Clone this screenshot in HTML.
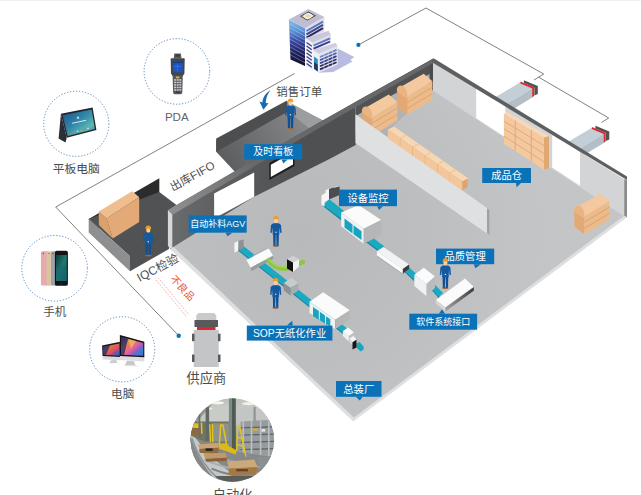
<!DOCTYPE html>
<html><head><meta charset="utf-8"><title>diagram</title>
<style>
html,body{margin:0;padding:0;background:#fff;font-family:"Liberation Sans",sans-serif;}
svg{display:block}
svg text{font-family:"Liberation Sans","Noto Sans CJK SC",sans-serif;}
.sr-only{position:absolute;left:0;top:0;width:1px;height:1px;margin:-1px;padding:0;overflow:hidden;clip:rect(0 0 0 0);clip-path:inset(50%);white-space:nowrap;border:0;font-size:1px;color:transparent}
</style></head><body>
<svg width="641" height="495" viewBox="0 0 641 495" role="img" aria-label="智能工厂物流与生产流程示意图">
<rect width="641" height="495" fill="#fff"/>
<!-- ===== thin outline + connector lines ===== -->
<g fill="none" stroke="#4a4a4a" stroke-width="0.7">
  <polyline points="294.5,73.5 55.7,207 178.7,335.7"/>
  <polyline points="358.4,44.9 426,8 543.7,74 534,80"/>
  <polyline points="538.7,77.2 608.7,118 601.5,122.5"/>
</g>
<circle cx="358.4" cy="44.9" r="2.1" fill="#0b72b8"/>
<circle cx="178.7" cy="335.7" r="2.2" fill="#0b72b8"/>

<!-- ===== dashed device circles ===== -->
<g fill="none" stroke="#2f6cb0" stroke-width="0.8" stroke-dasharray="1.2 1.8">
  <circle cx="176.9" cy="71.4" r="32.8"/>
  <circle cx="76.3" cy="123.8" r="32.6"/>
  <circle cx="54.6" cy="268.3" r="32.8"/>
  <circle cx="122.2" cy="349.3" r="32.6"/>
</g>

<!-- ===== delivery trucks (behind right wall) ===== -->
<g id="truck1">
  <polygon points="496,96.8 520.4,82.3 533.1,88 503,105.9" fill="#c4ced6"/>
  <polygon points="503,105.9 533.1,88 533.1,97.1 510,111" fill="#b3bec6"/>
  <polygon points="523.9,80.2 537.8,85.9 537.8,94 534.4,95.5 534.4,87.6 523.9,83" fill="#515254"/>
  <polygon points="520.4,81.4 534.2,87.2 534.2,96 532.3,96.9 532.3,88.6 520.4,83.6" fill="#e0262b"/>
</g>
<use href="#truck1" x="71.5" y="45.5"/>

<!-- ===== alcove behind back-left wall ===== -->
<polygon points="216.2,151.7 216.2,140 287,101.5 324,121 237,174" fill="url(#alcg)"/>
<polygon points="287,101 323,121 310.8,129.5 295,117" fill="#9b9d9e"/>
<polygon points="216.2,138.6 287,100.6 287,112 216.2,151.7" fill="#4d4e50"/>

<!-- ===== IQC room ===== -->
<polygon points="88.7,219 159.3,178.3 159.3,192.5 92,232" fill="#2c2c2e"/>
<polygon points="88.7,219 159.3,192 176.5,205 169,210 169,249 130,271.2 130,256.2" fill="#515254"/>
<polygon points="88.7,218.7 130,256.2 130,271.2 88.7,232.5" fill="#8d8f90"/>
<!-- box -->
<polygon points="98.7,211.5 132.2,191.3 139.2,197.3 106.5,218.5" fill="#efbd8e"/>
<polygon points="106.5,218.5 139.2,197.3 139.2,222 112.7,238.4" fill="#e3a976"/>
<polygon points="98.7,211.5 106.5,218.5 112.7,238.4 98.9,225" fill="#dba06c"/>

<!-- ===== main floor ===== -->
<polygon points="172,214 430,68 624,186 627,217.3 353.2,421.5 170,249" fill="#dedfe0"/>
<defs><radialGradient id="floorg" gradientUnits="userSpaceOnUse" cx="300" cy="235" r="250">
<stop offset="0" stop-color="#b8b9bb"/><stop offset="0.5" stop-color="#bdbec0"/><stop offset="1" stop-color="#c4c5c7"/></radialGradient></defs>
<polygon points="173,214 430,68 624,186 626.5,214 353.8,417.6 172.5,246" fill="url(#floorg)"/>

<!-- ===== back-left wall ===== -->
<defs>
  <linearGradient id="wallg" gradientUnits="userSpaceOnUse" x1="172" y1="0" x2="300" y2="0">
    <stop offset="0" stop-color="#6a6b6d"/><stop offset="0.45" stop-color="#5b5c5e"/><stop offset="1" stop-color="#4f5052"/>
  </linearGradient>
  <linearGradient id="bandg" gradientUnits="userSpaceOnUse" x1="175" y1="0" x2="255" y2="0">
    <stop offset="0" stop-color="#8c8d8f"/><stop offset="0.6" stop-color="#78797b"/><stop offset="1" stop-color="#67686a"/>
  </linearGradient>
  <linearGradient id="alcg" gradientUnits="userSpaceOnUse" x1="220" y1="160" x2="300" y2="115">
    <stop offset="0" stop-color="#5b5c5e"/><stop offset="1" stop-color="#858788"/>
  </linearGradient>
</defs>
<!-- face: main hall part -->
<polygon points="355.7,101.8 320,122 168,210 170,249 254.2,196.8 330,158.8 355.7,145" fill="url(#wallg)"/>
<!-- storage-room part: medium face + dark strip -->
<polygon points="355.7,101.8 433,58.8 433,90 355.7,133" fill="#b1b2b4"/>
<polygon points="355.7,101.8 433,58.8 433,72 355.7,116" fill="#515254"/>
<polygon points="429.5,61 433,59 433,90 429.5,92" fill="#4a4b4d"/>
<!-- top band -->
<polygon points="168,210 320,122 433,58.8 433,63 320,127.6 172,215" fill="url(#bandg)"/>
<polygon points="167.9,210 172.3,214.8 172.3,250 167.9,246" fill="#d7d8da"/>
<polygon points="214.1,193.5 254.2,172.5 254.2,196.8 214.1,218.6" fill="#ffffff"/>
<!-- window -->
<polygon points="269.3,163 294.5,148.8 294.5,166 269.3,180" fill="#1d1d1f"/>
<polygon points="270.8,164.8 293,152.2 293,164.6 270.8,177" fill="#ffffff"/>

<!-- ===== storage room shadow floor ===== -->
<polygon points="355.7,133 433,90 392,127 463,182 463,191.5 355.7,114.5" fill="#b1b2b4"/>

<!-- ===== back-right wall ===== -->
<polygon points="433,62 626.5,180.5 624.5,216.5 433,90.5" fill="#d3d4d6"/>
<polygon points="476.2,88.5 505.3,106.3 505.3,137.2 476.2,118.2" fill="#ffffff"/>
<polygon points="552.2,135 580,152 580,185.7 552.2,167.6" fill="#ffffff"/>
<polygon points="432,59 434,58.5 627,176.5 627,179.9 432,62.3" fill="#5e5f61"/>
<polygon points="624.3,179 627,180.3 627,217.3 624.3,215.6" fill="#8a8b8d"/>

<!-- ===== boxes at back ===== -->
<defs><g id="bigbox">
  <polygon points="1.2,17 11.2,24 11.2,41 1.2,33" fill="#e3a873"/>
  <polygon points="11.2,22.5 36.2,7.5 36.2,26 11.2,41" fill="#ecbb8c"/>
  <path d="M11.2,28.6 L36.2,13.6 M11.2,34.8 L36.2,19.8" stroke="#d9a06a" stroke-width="0.9" fill="none"/>
  <path d="M0.8,17.5 C0.2,13.5 3,11.5 6,12.3 L27.5,0 L36.2,7.5 L11.2,22.8 L10.5,24 Z" fill="#f4c99f"/>
  <path d="M0.8,17.5 C0.2,13.5 3,11.5 6,12.3 C9.5,13.5 11.5,18 11.2,24 Z" fill="#eab482"/>
</g></defs>

<!-- ===== partition wall ===== -->
<polygon points="355.7,114.5 489.5,210 489.5,235 355.7,143" fill="#dfe0e2"/>
<polygon points="487,208.3 489.5,210 489.5,235 487,233.3" fill="#9fa1a3"/>

<!-- ===== defs: worker ===== -->
<defs>
  <g id="worker">
    <!-- origin: top centre of helmet -->
    <ellipse cx="0" cy="29.8" rx="3.2" ry="1.1" fill="#9a6a3a"/>
    <path d="M-2.9,17.5 L-0.2,17.5 L-0.5,29.6 L-2.6,29.6 Z M0.2,17.5 L2.9,17.5 L2.6,29.6 L0.5,29.6 Z" fill="#0f5196"/>
    <path d="M-3.2,7.6 Q0,6.6 3.2,7.6 L5,9 L5.6,16.5 L4.2,17 L3.6,11.5 L3.2,19 L-3.2,19 L-3.6,11.5 L-4.2,17 L-5.6,16.5 L-5,9 Z" fill="#15599f"/>
    <circle cx="0" cy="16.2" r="0.7" fill="#e8eef5"/>
    <ellipse cx="0" cy="4.6" rx="2.1" ry="2.6" fill="#f6cfa6"/>
    <path d="M-2.9,3.6 Q-2.9,0 0,0 Q2.9,0 2.9,3.6 Q0,2.6 -2.9,3.6 Z" fill="#f39a1e"/>
  </g>
</defs>

<!-- ===== storage: big box stacks at back ===== -->
<use href="#bigbox" x="361.2" y="94.5"/>
<use href="#bigbox" x="396.2" y="73.7"/>
<!-- re-draw partition above boxes -->
<polygon points="355.7,114.5 489.5,210 489.5,235 355.7,143" fill="#dfe0e2"/>
<polygon points="487,208.3 489.5,210 489.5,235 487,233.3" fill="#9fa1a3"/>

<!-- row of small boxes -->
<defs>
  <g id="smbox">
    <polygon points="0,3 6.2,0 18.6,8.65 12.4,11.65" fill="#f7d6b3"/>
    <polygon points="0,3 12.4,11.65 12.4,20.45 0,11.8" fill="#f3c79a"/>
    <polygon points="12.4,11.65 17.6,8.6 17.6,17.2 12.4,20.45" fill="#dfa46c"/>
    <path d="M12.4,11.65 L12.4,20.45" stroke="#e3ac78" stroke-width="0.7"/>
  </g>
</defs>
<use href="#smbox" x="387.9" y="126.6"/>
<use href="#smbox" x="400.3" y="135.3"/>
<use href="#smbox" x="412.8" y="143.9"/>
<use href="#smbox" x="425.2" y="152.6"/>
<use href="#smbox" x="437.6" y="161.3"/>
<use href="#smbox" x="450.0" y="169.9"/>

<!-- shelf -->
<polygon points="503.9,113.7 507,112 549,136.3 544,137.5" fill="#f8d8b8"/>
<polygon points="503.9,113.7 544,137.5 544,169.8 503.9,143.7" fill="#f4c99f"/>
<polygon points="544,137.5 549,136.3 549,168 544,169.8" fill="#e2a872"/>
<path d="M503.9,121.2 L544,145.6 M503.9,128.7 L544,153.7 M503.9,136.2 L544,161.8 M515.2,120.4 L515.2,151 M531.3,130 L531.3,161.5" stroke="#e0a676" stroke-width="0.9" fill="none"/>

<!-- right stack -->
<use href="#bigbox" x="573.2" y="193.5"/>

<!-- ===== conveyor 2 (upper) ===== -->
<polygon points="323.7,204.4 341.3,218.1 341.3,220.5 323.7,206.8" fill="#0e8fa8"/>
<polygon points="323.7,204.4 329.2,199.2 346.8,212.9 341.3,218.1" fill="#1aa9c3"/>
<polygon points="366,239.8 379.8,250.2 379.8,252.6 366,242.20000000000002" fill="#0e8fa8"/>
<polygon points="366,239.8 370.7,236 384.4,246.4 379.8,250.2" fill="#1aa9c3"/>
<polygon points="404,269.2 414.4,279.2 414.4,281.59999999999997 404,271.59999999999997" fill="#0e8fa8"/>
<polygon points="404,269.2 408.1,266.4 418.2,275.5 414.4,279.2" fill="#1aa9c3"/>
<polygon points="430.3,286 439.3,296.4 439.3,298.79999999999995 430.3,288.4" fill="#0e8fa8"/>
<polygon points="430.3,286 434,283.8 443,293 439.3,296.4" fill="#1aa9c3"/>
<!-- start scanner -->
<polygon points="321.4,195.5 325.5,193 325.5,190.5 329,188.5 329,199.5 324.5,202 324.5,206.5 321.4,204.5" fill="#f6f6f6"/>
<polygon points="329,188.5 339.6,186.6 339.6,195 329,199.5" fill="#4c4d52"/>
<polygon points="325.5,190.5 336,186.6 339.6,186.6 329,188.5" fill="#e2e3e4"/>
<!-- tunnel machine A -->
<polygon points="341.2,212.5 358.7,205 381.2,220 363.7,228.7" fill="#fbfbfb"/>
<polygon points="341.2,212.5 363.7,228.7 363.7,243.7 341.2,226.2" fill="#f0f1f2"/>
<polygon points="363.7,228.7 381.2,220 381.2,235 363.7,243.7" fill="#b4b6b8"/>
<polygon points="344.5,218.5 352.5,224.5 352.5,233.5 344.5,227.5" fill="#18a3be"/>
<polygon points="353.5,225.2 361.5,231.2 361.5,240 353.5,234.2" fill="#18a3be"/>
<!-- long white box -->
<polygon points="376.9,251.3 383.4,247.1 409.1,264.4 402.8,269.1" fill="#f1f2f3"/>
<polygon points="376.9,251.3 402.8,269.1 402.8,273.8 376.9,255.6" fill="#fbfbfb"/>
<polygon points="376.9,255.6 402.8,273.8 402.8,274.8 376.9,256.6" fill="#a9abad"/>
<polygon points="402.8,269.1 409.1,264.4 409.1,268.8 402.8,273.8" fill="#3a3b3d"/>
<!-- cube -->
<polygon points="414.4,274.7 423.8,267.8 435,276.6 426.6,284.1" fill="#fbfbfb"/>
<polygon points="414.4,274.7 426.6,284.1 426.6,296.3 414.4,286" fill="#f0f1f2"/>
<polygon points="426.6,284.1 435,276.6 435,287.8 426.6,296.3" fill="#b9bbbd"/>
<!-- end table -->
<polygon points="435.9,300 465,278.4 473.8,286.9 445.3,307.5" fill="#fbfbfb"/>
<defs><linearGradient id="tblg" gradientUnits="userSpaceOnUse" x1="445" y1="0" x2="474" y2="0"><stop offset="0" stop-color="#a3a4a6"/><stop offset="1" stop-color="#3c3d3f"/></linearGradient></defs>
<polygon points="445.3,307.5 473.8,286.9 473.8,290.8 445.3,311.6" fill="url(#tblg)"/>
<polygon points="435.9,300 445.3,307.5 445.3,311.6 435.9,303.8" fill="#d5d6d7"/>

<!-- ===== conveyor 1 (lower) ===== -->
<polygon points="238.2,248.6 238.2,250.8 343.2,334.3 343.2,332.1" fill="#0e8fa8"/>
<polygon points="238.2,248.6 242.8,245.4 347.8,328.9 343.2,332.1" fill="#1aa9c3"/>
<!-- scanner -->
<polygon points="234.4,243 238.4,240.7 238.4,250.6 234.4,252.8" fill="#f4f4f4"/>
<polygon points="238.4,240.7 243.6,239.4 243.6,248 238.4,250.6" fill="#8f9193"/>
<!-- white bar machine -->
<polygon points="252.5,255.5 268.7,247.6 269.5,249 253,257.8" fill="#a5a7a9"/>
<polygon points="246.4,260 268.7,248.3 273,255.7 250.7,267.7" fill="#fbfbfb"/>
<polygon points="250.7,267.7 273,255.7 273.6,258.5 251.5,271.3" fill="#9a9c9e"/>
<!-- green curve -->
<path d="M268.5,260.5 C274,268.5 281,269.5 289,268 L303,262" fill="none" stroke="#8dc63f" stroke-width="4.4" stroke-linecap="round"/>
<path d="M269,259.5 C274.5,267 281,268 289,266.6" fill="none" stroke="#a9d65c" stroke-width="1.2" stroke-linecap="round"/>
<!-- black/white box -->
<polygon points="287,259 293,262.5 293,272 287,268.5" fill="#111"/>
<polygon points="293,262.5 299,259 299,266.5 293,272" fill="#f2f2f2"/>
<polygon points="287,259 293,255.8 299,259 293,262.5" fill="#cfd0d2"/>
<!-- gray box -->
<polygon points="283.7,282.9 291.4,277.7 298.3,282.9 290.6,288" fill="#c9cacc"/>
<polygon points="283.7,282.9 290.6,288 290.6,295.7 283.7,290.6" fill="#8f9193"/>
<polygon points="290.6,288 298.3,282.9 298.3,290.6 290.6,295.7" fill="#a9abad"/>
<!-- tunnel machine B -->
<polygon points="309.5,301.7 323.2,292.3 349.8,310.3 335.2,319.7" fill="#fbfbfb"/>
<polygon points="309.5,301.7 335.2,319.7 335.2,329.2 309.5,312.9" fill="#f0f1f2"/>
<polygon points="335.2,319.7 349.8,310.3 349.8,318.9 335.2,329.2" fill="#b4b6b8"/>
<polygon points="313,307 318.8,311 318.8,319.8 313,316" fill="#18a3be"/>
<polygon points="319.8,311.8 325,315.5 325,323.5 319.8,320.3" fill="#18a3be"/>
<polygon points="326,316.2 330.3,319.2 330.3,326.6 326,324" fill="#18a3be"/>
<!-- small cube + dark end -->
<polygon points="342.9,330.9 348,327.5 354,332.6 348.9,336" fill="#fbfbfb"/>
<polygon points="342.9,330.9 348.9,336 348.9,341.5 342.9,336" fill="#eeeff0"/>
<polygon points="348.9,336 354,332.6 354,338 348.9,341.5" fill="#bfc1c3"/>
<polygon points="349.5,338.5 353.5,336 356.5,339.5 352.5,342.2" fill="#f4f4f4"/>
<polygon points="349.5,338.5 352.5,342.2 352.5,345.5 349.5,342" fill="#d9dadb"/>
<polygon points="356.5,343.5 359.5,342 363.6,346.5 363.6,349.5 360.5,351.6 356.5,347.5" fill="#17a5bf"/>
<polygon points="352.5,342.2 356.5,339.8 356.5,347.5 352.5,349.6" fill="#161618"/>

<!-- ===== supplier truck ===== -->
<path d="M198.5,313 L214,313 L216.3,315.5 L216.3,320 L196.2,320 L196.2,315.5 Z" fill="#c9cacc"/>
<rect x="194.5" y="320" width="23.5" height="7" fill="#58595b"/>
<rect x="197" y="327" width="18.5" height="3" fill="#e0262b"/>
<rect x="193.7" y="330" width="25" height="37" fill="#c4c5c7"/>
<g fill="#58595b">
<rect x="192" y="333.7" width="2.5" height="7.5"/><rect x="218" y="333.7" width="2.5" height="7.5"/>
<rect x="192" y="354.5" width="2.5" height="7.5"/><rect x="218" y="354.5" width="2.5" height="7.5"/>
</g>

<!-- reject dotted arrows -->
<g fill="none" stroke="#ee8468" stroke-width="0.8" stroke-dasharray="1 1.3">
  <line x1="156" y1="280" x2="186" y2="316"/>
  <line x1="158.5" y1="278.2" x2="188.5" y2="314.2"/>
</g>

<!-- sales order arrow -->
<path d="M270.6,89.7 C265.3,93.4 262.6,98 262.4,102.4 L259.5,101.5 L263.4,109.8 L268.5,103.2 L265.7,102.9 C265.8,98.5 267.4,94 270.6,89.7 Z" fill="#1769b5"/>

<!-- top hairline -->
<rect x="0" y="0" width="641" height="1" fill="#f0f0f0"/>

<!-- ===== office building ===== -->
<defs>
  <linearGradient id="bfaceL" x1="0" y1="0" x2="0" y2="1">
    <stop offset="0" stop-color="#86c4ec"/><stop offset="0.25" stop-color="#5a8fd6"/><stop offset="0.5" stop-color="#33409a"/><stop offset="0.75" stop-color="#1c1f55"/><stop offset="1" stop-color="#101230"/>
  </linearGradient>
  <linearGradient id="bfaceR" x1="0" y1="0" x2="0" y2="1">
    <stop offset="0" stop-color="#8a9fd0"/><stop offset="1" stop-color="#2a2d5c"/>
  </linearGradient>
</defs>
<g id="office">
  <!-- shadow -->
  <polygon points="337.7,48.5 354.3,56.9 350.3,60 352.5,61.5 333.3,72 318.8,72.7" fill="#b9bbe0"/>
  <!-- tower 1 -->
  <polygon points="288.9,19.4 305,28.3 305,66 290.5,59.5" fill="url(#bfaceL)"/>
  <g stroke="#dfe6f5" stroke-width="0.6" opacity="0.6">
    <path d="M289,23.5 L305,32.4 M289.2,27.4 L305,36.2 M289.4,31.3 L305,40 M289.6,35.2 L305,43.8 M289.8,39.1 L305,47.6 M290,43 L305,51.4 M290.1,46.9 L305,55.2 M290.2,50.8 L305,59 M290.3,54.7 L305,62.8"/>
  </g>
  <polygon points="305,28.3 324.4,17 324.4,31.5 305,40" fill="#dedeed"/>
  <g stroke="url(#bfaceR)" stroke-width="2" fill="none">
    <path d="M306.5,31 L323,21.6" stroke="#5d74b8"/>
    <path d="M306.5,34.3 L323,24.9" stroke="#3d4890"/>
    <path d="M306.5,37.6 L323,28.2" stroke="#2a2d5c"/>
  </g>
  <polygon points="288.9,19.4 308.3,8.9 324.4,17 305,28.3" fill="#bebdd2"/>
  <!-- helipad -->
  <polygon points="300,16.3 308.5,11.5 316,15.7 307.3,20.6" fill="#34344a"/>
  <polygon points="301.5,16.3 308.5,12.4 314.5,15.7 307.3,19.7" fill="#ecd9a8"/>
  <ellipse cx="308" cy="16" rx="3.6" ry="2.3" fill="none" stroke="#ffffff" stroke-width="0.9"/>
  <!-- tier 2 -->
  <polygon points="305.8,38 312.3,42.8 313,71 305.8,66" fill="#f0f0f8"/>
  <g stroke="#3a3f80" stroke-width="1.3">
    <path d="M306.6,42.5 L311.8,46.3 M306.6,46 L311.8,49.8 M306.6,49.5 L311.8,53.3 M306.6,53 L311.8,56.8 M306.6,56.5 L311.8,60.3 M306.6,60 L311.8,63.8 M306.6,63.5 L311.8,67.3"/>
  </g>
  <polygon points="312.3,42.8 330.9,34.7 330.9,43 313.1,50.5" fill="#dedeed"/>
  <path d="M313.6,45.5 L330,38.4" stroke="#5d74b8" stroke-width="1.8"/>
  <path d="M313.6,48.6 L330,41.5" stroke="#35398a" stroke-width="1.8"/>
  <polygon points="305.8,38 328.5,30.7 330.9,34.7 312.3,42.8" fill="#c9c8da"/>
  <!-- tier 3 -->
  <polygon points="313.1,50 318.8,54.1 318.8,72.7 313.1,68.7" fill="#eeeef6"/>
  <polygon points="314,56.5 317.8,59.2 317.8,71.5 314,68.8" fill="#2e8fc4"/>
  <polygon points="314,62 317.8,64.7 317.8,71.5 314,68.8" fill="#1b3b6a"/>
  <polygon points="318.8,54.1 337.7,46 337.7,64.6 318.8,72.7" fill="#e4e4f0"/>
  <g stroke-width="1.7">
    <path d="M320,57 L336.5,49.9" stroke="#6d86c4"/>
    <path d="M320,60.1 L336.5,53" stroke="#4a5aa6"/>
    <path d="M320,63.2 L336.5,56.1" stroke="#353a88"/>
    <path d="M320,66.3 L336.5,59.2" stroke="#2a2d66"/>
    <path d="M320,69.4 L336.5,62.3" stroke="#22244e"/>
  </g>
  <g stroke="#e4e4f0" stroke-width="0.6">
    <path d="M324,52 L324,71 M328.2,50.2 L328.2,69 M332.4,48.4 L332.4,67.2"/>
  </g>
  <polygon points="313.1,50 335.7,42.8 337.7,46 318.8,54.1" fill="#cfcee0"/>
</g>

<!-- ===== PDA ===== -->
<g id="pda">
  <path d="M174.3,53.5 L180.9,53.5 L181.5,58.5 L173.7,58.5 Z" fill="#5a5d62"/>
  <rect x="175.3" y="54.5" width="4.6" height="2.2" fill="#3a3c40"/>
  <path d="M171.6,58.2 L183.8,58.2 Q184.7,58.2 184.7,59.2 L184.4,73.5 L182.8,76 L172.6,76 L171,73.5 L170.7,59.2 Q170.7,58.2 171.6,58.2 Z" fill="#43464b"/>
  <rect x="172.9" y="61.8" width="9.6" height="10.4" fill="#1a56c8"/>
  <rect x="172.9" y="61.8" width="9.6" height="1.3" fill="#0f3d95"/>
  <path d="M173.5,66.5 L181.5,66.5 M177.5,63.5 L177.5,71.5" stroke="#4f8cf0" stroke-width="0.4"/>
  <path d="M172.6,75.5 L182.8,75.5 L182.3,92.5 Q182.3,94.2 180.6,94.2 L174.8,94.2 Q173.1,94.2 173.1,92.5 Z" fill="#55585d"/>
  <rect x="176" y="76.4" width="3.4" height="1.8" rx="0.5" fill="#e8b820"/>
  <g fill="#cfd0d3">
    <rect x="174.1" y="79.2" width="2" height="1.5"/><rect x="176.7" y="79.2" width="2" height="1.5"/><rect x="179.3" y="79.2" width="2" height="1.5"/>
    <rect x="174.1" y="81.7" width="2" height="1.5"/><rect x="176.7" y="81.7" width="2" height="1.5"/><rect x="179.3" y="81.7" width="2" height="1.5"/>
    <rect x="174.1" y="84.2" width="2" height="1.5"/><rect x="176.7" y="84.2" width="2" height="1.5"/><rect x="179.3" y="84.2" width="2" height="1.5"/>
    <rect x="174.1" y="86.7" width="2" height="1.5"/><rect x="176.7" y="86.7" width="2" height="1.5"/><rect x="179.3" y="86.7" width="2" height="1.5"/>
    <rect x="174.1" y="89.2" width="2" height="1.5"/><rect x="176.7" y="89.2" width="2" height="1.5"/><rect x="179.3" y="89.2" width="2" height="1.5"/>
  </g>
  <rect x="175.5" y="91.6" width="4.4" height="1.3" fill="#3a3c40"/>
</g>

<!-- ===== tablet ===== -->
<defs>
  <linearGradient id="tabscr" x1="0" y1="0" x2="1" y2="1">
    <stop offset="0" stop-color="#1f4f8c"/><stop offset="0.45" stop-color="#2f86a8"/><stop offset="0.75" stop-color="#5fb8b0"/><stop offset="1" stop-color="#2a6fa0"/>
  </linearGradient>
</defs>
<g id="tablet">
  <polygon points="60.9,113.8 58.6,138.5 65.5,142.5 66.7,137.8" fill="#2b2e35"/>
  <polygon points="60.9,113.8 92.6,107.6 96.4,130.1 66.7,137.8" fill="#23262c"/>
  <polygon points="62.6,115.2 91.6,109.5 94.9,129 67.7,136" fill="url(#tabscr)"/>
  <path d="M72,123.3 L86,120.3" stroke="#e8f4f8" stroke-width="0.9"/>
  <circle cx="78" cy="117.8" r="1.2" fill="#d8eef2" opacity="0.8"/>
  <g fill="#f0e0e0">
    <circle cx="70.5" cy="133" r="0.8" fill="#e06060"/><circle cx="74" cy="132.1" r="0.8" fill="#60b0e0"/><circle cx="77.5" cy="131.2" r="0.8" fill="#e0e0e0"/>
    <circle cx="81" cy="130.3" r="0.8" fill="#e0a040"/><circle cx="84.5" cy="129.4" r="0.8" fill="#8080e0"/><circle cx="88" cy="128.5" r="0.8" fill="#e0e0e0"/>
  </g>
</g>

<!-- ===== phones ===== -->
<defs>
  <linearGradient id="phscr" x1="0" y1="0" x2="1" y2="1">
    <stop offset="0" stop-color="#0c3a3c"/><stop offset="0.5" stop-color="#1f7a70"/><stop offset="1" stop-color="#114a58"/>
  </linearGradient>
</defs>
<g id="phones">
  <rect x="40.9" y="251.2" width="8.5" height="34.4" rx="1.6" fill="#e4abab"/>
  <rect x="46.6" y="251.4" width="6.5" height="34.2" rx="1.6" fill="#dcc3a2"/>
  <rect x="51" y="251.2" width="6" height="34.4" rx="1.6" fill="#a0a2ab"/>
  <rect x="54.9" y="250.8" width="13" height="35" rx="1.9" fill="#141416"/>
  <rect x="56" y="255" width="10.8" height="26" fill="url(#phscr)"/>
  <path d="M56,268 Q61,262 66.8,270 L66.8,281 L56,281 Z" fill="#1a6a70" opacity="0.7"/>
  <circle cx="61.4" cy="283.4" r="1.1" fill="#2a2a2e"/>
  <circle cx="43.3" cy="253.5" r="0.8" fill="#7a5a5a"/><circle cx="49" cy="253.6" r="0.7" fill="#7a6a55"/><circle cx="53" cy="253.5" r="0.7" fill="#55565c"/>
</g>

<!-- ===== iMacs ===== -->
<defs>
  <linearGradient id="mac1" x1="0" y1="0" x2="1" y2="1">
    <stop offset="0" stop-color="#2a2a5a"/><stop offset="0.35" stop-color="#e07838"/><stop offset="0.65" stop-color="#d84a70"/><stop offset="1" stop-color="#4a2a7a"/>
  </linearGradient>
  <linearGradient id="mac2" x1="0" y1="0" x2="1" y2="1">
    <stop offset="0" stop-color="#3a2a6a"/><stop offset="0.3" stop-color="#e88a40"/><stop offset="0.55" stop-color="#e8609a"/><stop offset="0.8" stop-color="#6a5ad0"/><stop offset="1" stop-color="#2a3a7a"/>
  </linearGradient>
</defs>
<g id="imacs">
  <!-- small -->
  <polygon points="110.5,360.5 116.5,359.8 117.2,363 109.5,363.3" fill="#c9ccd0"/>
  <polygon points="102.1,345.5 120.3,341.7 120.3,360.3 102.6,359.4" fill="#d9dbde"/>
  <polygon points="102.1,345.5 120.3,341.7 120.3,357 102.6,356.1" fill="#18181c"/>
  <polygon points="103.4,346.8 119.4,343.4 119.4,355.6 103.8,354.9" fill="url(#mac1)"/>
  <polygon points="103.4,346.8 110,345.4 106,355 103.8,354.9" fill="#2b2d6e" opacity="0.8"/>
  <polygon points="112,355.3 119.4,349 119.4,355.6" fill="#3a6fd0" opacity="0.75"/>
  <!-- big -->
  <polygon points="127,360.8 134,361.3 135.5,365.5 125,365" fill="#c4c7cb"/>
  <polygon points="124.5,365 137.5,365.6 137.5,366.6 124.5,366" fill="#dfe1e4"/>
  <polygon points="119.9,335 144.3,341.7 144.3,361.6 119.9,360" fill="#dcdee1"/>
  <polygon points="119.9,335 144.3,341.7 144.3,357.3 119.9,356.1" fill="#141418"/>
  <polygon points="121.2,337 143.2,343 143.2,355.8 121.2,354.8" fill="url(#mac2)"/>
  <polygon points="121.2,337 128,338.9 124,354.9 121.2,354.8" fill="#2c2a66" opacity="0.8"/>
  <polygon points="133,355.3 143.2,346 143.2,355.8" fill="#3f7fd8" opacity="0.8"/>
  <polygon points="128,338.9 136,341 131,349" fill="#f0c060" opacity="0.7"/>
</g>

<!-- ===== automation photo ===== -->
<defs>
  <clipPath id="photoclip"><circle cx="232.3" cy="440" r="41.8"/></clipPath>
  <linearGradient id="phbg" x1="0" y1="0" x2="0" y2="1">
    <stop offset="0" stop-color="#bdbfb6"/><stop offset="0.12" stop-color="#c6c8c2"/><stop offset="0.3" stop-color="#c2c5c2"/><stop offset="0.42" stop-color="#9a9f9e"/><stop offset="0.7" stop-color="#8d9190"/><stop offset="1" stop-color="#6e706e"/>
  </linearGradient>
</defs>
<g clip-path="url(#photoclip)">
<rect x="188" y="396" width="90" height="90" fill="url(#phbg)"/>
<polygon points="188.0,396.0 217.1,396.0 209.8,406.9 198.9,419.6 188.0,432.4" fill="#97988c"/>
<polygon points="209.8,406.9 228.9,404.2 228.9,421.5 206.2,421.5" fill="#c9cbc6"/>
<ellipse cx="218.0" cy="402.9" rx="6" ry="1.6" fill="#f4f5ee"/>
<ellipse cx="248.9" cy="403.6" rx="7" ry="1.7" fill="#f1f2ea"/>
<ellipse cx="209.8" cy="408.7" rx="2.5" ry="1" fill="#ecede4"/>
<polygon points="235.6,406.9 278.0,410.5 278.0,423.3 235.6,421.5" fill="#c3c6c4"/>
<rect x="253.5" y="406.9" width="2.2" height="14.5" fill="#8e9694" />
<polygon points="240.7,421.5 278.0,419.6 278.0,459.6 240.7,456.0" fill="#979d9f"/>
<path d="M240.7,427.8 L278.0,426.7" stroke="#5f6668" stroke-width="1.4"/>
<path d="M240.7,435.1 L278.0,434.0" stroke="#5f6668" stroke-width="1.4"/>
<path d="M240.7,442.4 L278.0,441.3" stroke="#5f6668" stroke-width="1.4"/>
<path d="M240.7,449.6 L278.0,448.5" stroke="#5f6668" stroke-width="1.4"/>
<rect x="242.5" y="421.1" width="1.6" height="35.8" fill="#bcc0c1" />
<rect x="250.7" y="421.1" width="1.6" height="35.8" fill="#bcc0c1" />
<rect x="259.8" y="421.1" width="1.6" height="35.8" fill="#bcc0c1" />
<rect x="268.0" y="421.1" width="1.6" height="35.8" fill="#bcc0c1" />
<rect x="252.5" y="428.4" width="5.5" height="2.5" fill="#c8b040" />
<rect x="261.6" y="429.1" width="3.6" height="2.5" fill="#e8e8e0" />
<polygon points="188.0,421.5 228.9,421.5 228.9,443.3 188.0,441.5" fill="#74755f"/>
<rect x="190.7" y="423.3" width="8.5" height="4.7" fill="#dcc02c" />
<rect x="190.7" y="428.0" width="10.4" height="7.3" fill="#8b6a40" />
<rect x="211.6" y="423.3" width="17.3" height="18.2" fill="#8d918c" />
<rect x="205.6" y="406.9" width="3.5" height="33.6" fill="#5e6a66" />
<rect x="198.5" y="412.4" width="1.8" height="25.5" fill="#66706a" />
<rect x="228.9" y="397.8" width="3.1" height="52.7" fill="#7d8b85" />
<rect x="232.0" y="397.8" width="3.8" height="52.7" fill="#4e5b57" />
<polygon points="188.0,433.3 198.9,439.6 229.8,450.5 278.0,457.8 278.0,486.0 188.0,486.0" fill="#85898a"/>
<path d="M189.8,435.1 C195.3,450.5 204.4,468.7 217.1,481.5 L248.0,481.5 C229.8,474.2 209.8,457.8 195.3,437.8 Z" fill="#c4c8c9"/>
<path d="M191.6,437.8 C197.1,454.2 206.2,468.7 218.9,479.6" fill="none" stroke="#8e9395" stroke-width="1.5"/>
<path d="M198.9,450.5 C215.3,457.8 235.3,463.3 264.4,467.8" fill="none" stroke="#9ea3a5" stroke-width="2"/>
<path d="M204.4,459.6 C220.7,466.9 238.9,471.5 266.2,474.2" fill="none" stroke="#a8acae" stroke-width="2"/>
<path d="M211.6,468.7 C224.4,474.2 242.5,477.8 264.4,478.7" fill="none" stroke="#7e8284" stroke-width="2"/>
<polygon points="257.1,456.9 278.0,456.0 278.0,472.4 260.7,468.7" fill="#8a8f91"/>
<polygon points="215.3,476.0 264.4,476.0 257.1,486.0 224.4,486.0" fill="#5b5d5b"/>
<polygon points="198.0,444.4 217.1,442.9 218.5,447.8 199.3,448.7" fill="#c9a373"/>
<polygon points="199.3,448.7 218.5,447.8 218.2,452.7 200.0,453.1" fill="#96683a"/>
<rect x="205.6" y="448.4" width="7.1" height="2.5" fill="#2a2420" />
<polygon points="203.5,453.8 225.3,452.7 227.1,457.8 205.3,458.7" fill="#c19a66"/>
<polygon points="205.3,458.7 227.1,457.8 226.5,461.1 206.2,461.8" fill="#8c6036"/>
<polygon points="227.1,461.5 254.4,459.6 257.5,467.3 228.9,468.4" fill="#cba97a"/>
<polygon points="228.9,468.4 257.5,467.3 256.4,474.2 228.4,474.9" fill="#a57840"/>
<rect x="236.2" y="469.1" width="11.8" height="2.2" fill="#5a4630" />
<g fill="none" stroke="#e4c41c" stroke-width="1.5" stroke-linejoin="round" stroke-linecap="round">
<path d="M201.5,423.3 L201.8,433.3 M209.8,424.7 L210.5,441.5 M212.4,424.7 L212.7,441.5"/>
<path d="M219.3,445.1 L220.7,425.1 L222.9,425.1 L226.5,444.2"/>
<path d="M236.7,450.5 L237.5,426.5 L239.6,426.5 L245.8,456.0"/>
<path d="M238.0,437.8 L242.5,438.2 M237.8,445.1 L243.8,446.0"/>
</g>
<polygon points="218.5,444.7 224.4,443.6 236.7,450.5 235.6,454.5 224.4,450.5 218.9,448.7" fill="#dcb818"/>
</g>

<g id="labels">
<rect x="244.2" y="144.2" width="58" height="15.2" fill="#0b72b8"/>
<polygon points="281.6,159.39999999999998 287.6,159.39999999999998 283.3,163.6" fill="#0b72b8"/>
<text x="273.2" y="155.44" font-size="10" fill="#fff" text-anchor="middle">及时看板</text>
<rect x="188.7" y="215.4" width="58" height="17.3" fill="#0b72b8"/>
<polygon points="225.5,232.70000000000002 232.3,232.70000000000002 227.6,236.3" fill="#0b72b8"/>
<text x="217.7" y="227.29" font-size="9" fill="#fff" text-anchor="middle">自动补料AGV</text>
<rect x="339" y="189.6" width="58" height="16.6" fill="#0b72b8"/>
<polygon points="377.2,206.2 383,206.2 379,209.9" fill="#0b72b8"/>
<text x="368" y="201.61" font-size="10.3" fill="#fff" text-anchor="middle">设备监控</text>
<rect x="482.2" y="168" width="48.8" height="15" fill="#0b72b8"/>
<polygon points="516,183 521,183 516.6,187.3" fill="#0b72b8"/>
<text x="506.6" y="179.21" font-size="10.3" fill="#fff" text-anchor="middle">成品仓</text>
<rect x="436" y="248.6" width="58.2" height="15.6" fill="#0b72b8"/>
<polygon points="473.7,264.2 481,264.2 475.4,268.2" fill="#0b72b8"/>
<text x="465.1" y="260.11" font-size="10.3" fill="#fff" text-anchor="middle">品质管理</text>
<rect x="409.3" y="313.7" width="67.8" height="16" fill="#0b72b8"/>
<polygon points="438.8,313.7 445.2,313.7 442,309.2" fill="#0b72b8"/>
<text x="443.2" y="324.94" font-size="9" fill="#fff" text-anchor="middle">软件系统接口</text>
<rect x="246.8" y="325.6" width="85.6" height="15" fill="#0b72b8"/>
<polygon points="286.8,325.6 292.7,325.6 292.3,320.8" fill="#0b72b8"/>
<text x="289.6" y="336.88" font-size="10.3" fill="#fff" text-anchor="middle">SOP无纸化作业</text>
<rect x="336" y="381" width="45.5" height="15.8" fill="#0b72b8"/>
<polygon points="355.8,396.8 362.6,396.8 359.8,400.4" fill="#0b72b8"/>
<text x="358.75" y="392.64" font-size="10.4" fill="#fff" text-anchor="middle">总装厂</text>
</g>
<g id="workers">
<use href="#worker" x="290.5" y="98.5"/>
<use href="#worker" x="148.3" y="225.5"/>
<use href="#worker" x="445.4" y="258.2"/>
<use href="#worker" x="276" y="216"/>
<use href="#worker" x="275.7" y="278"/>
</g>
<g id="texts">
<text x="176.8" y="120.5" font-size="11.6" fill="#666666" text-anchor="middle">PDA</text>
<text x="76.3" y="172.5" font-size="11.8" fill="#4d4d4d" text-anchor="middle">平板电脑</text>
<text x="54.8" y="316.2" font-size="11.6" fill="#4d4d4d" text-anchor="middle">手机</text>
<text x="122.7" y="397.7" font-size="11.6" fill="#4d4d4d" text-anchor="middle">电脑</text>
<text x="299.2" y="96" font-size="11.5" fill="#4d4d4d" text-anchor="middle">销售订单</text>
<text x="206.3" y="383" font-size="13.2" fill="#4d4d4d" text-anchor="middle">供应商</text>
<text x="232.6" y="499.7" font-size="13.2" fill="#4d4d4d" text-anchor="middle">自动化</text>
<text transform="translate(172.70,191.60) rotate(-29)" x="0" y="0" font-size="11.5" fill="#4d4d4d">出库FIFO</text>
<text transform="translate(139.50,282.00) rotate(-27.5)" x="0" y="0" font-size="12" fill="#4d4d4d">IQC检验</text>
<text transform="translate(169.80,279.50) rotate(47)" x="0" y="0" font-size="10" fill="#e8552d">不良品</text>
</g>
</svg>
<div class="sr-only">
<p>PDA</p><p>平板电脑</p><p>手机</p><p>电脑</p><p>销售订单</p><p>出库FIFO</p><p>IQC检验</p><p>不良品</p><p>供应商</p><p>自动化</p>
<p>及时看板</p><p>自动补料AGV</p><p>设备监控</p><p>成品仓</p><p>品质管理</p><p>软件系统接口</p><p>SOP无纸化作业</p><p>总装厂</p>
</div>
</body></html>
